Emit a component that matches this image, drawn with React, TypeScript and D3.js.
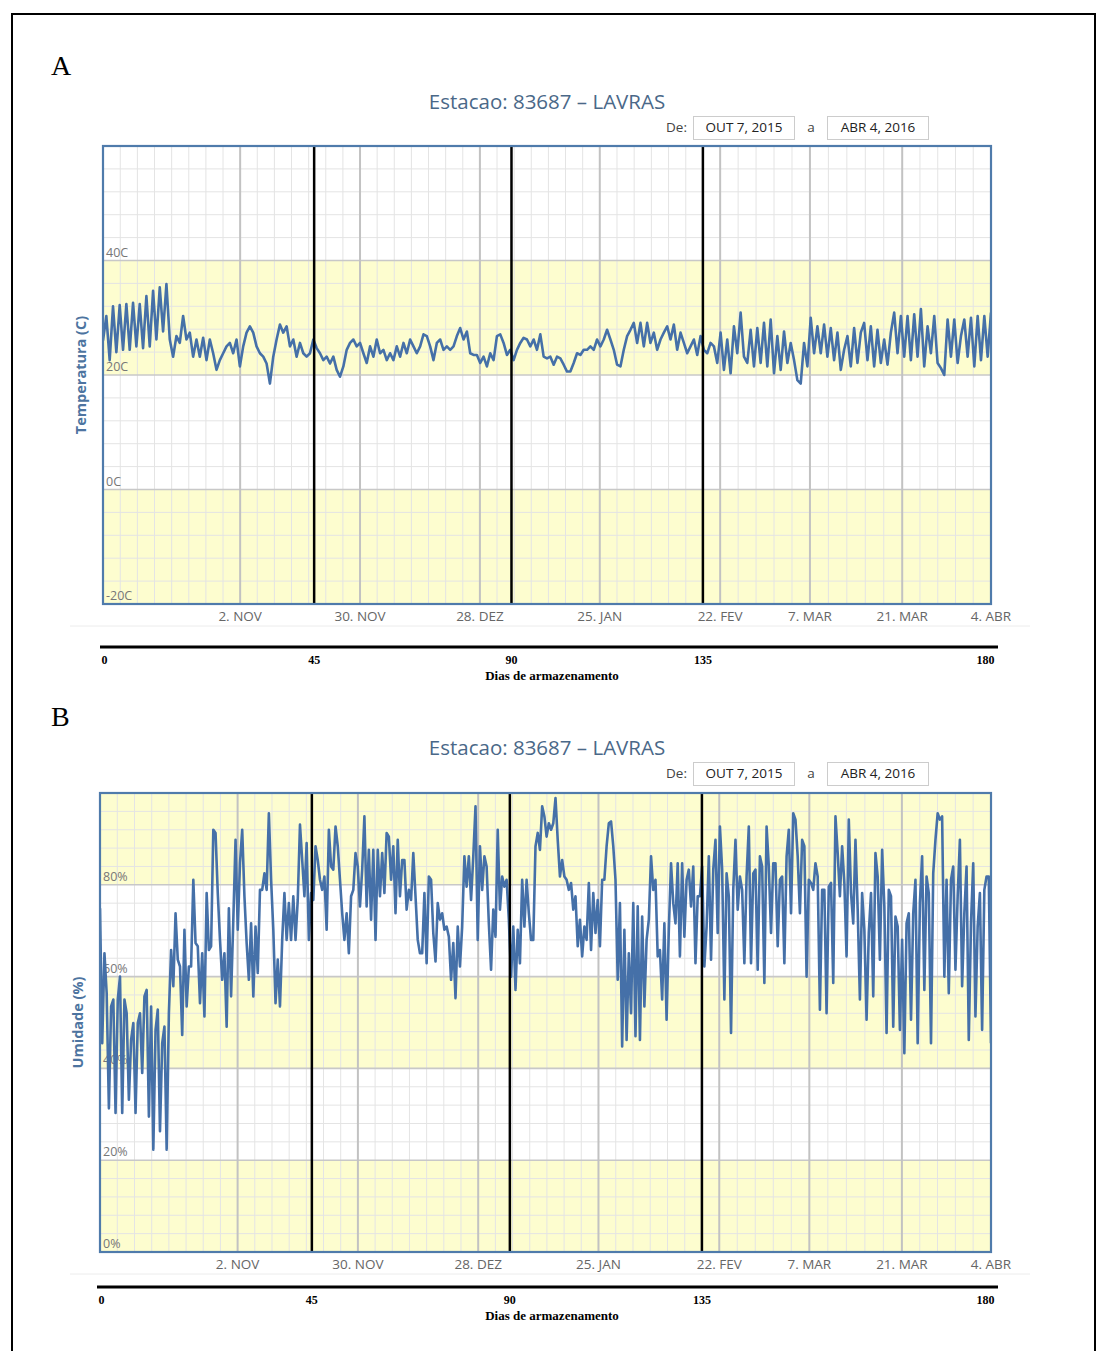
import React from 'react';
import * as d3 from 'd3';

// ---------- data ----------
const tempValues: number[] = [
  26, 30.3, 22.6, 32, 24, 32.2, 24.4, 32.4, 24.4, 32.6, 25, 32.4, 24.7, 33.8, 25, 34.7, 26.2, 35.3, 27.6, 35.9,
  26.2, 23.2, 26.8, 25.6, 30.3, 26.2, 27.4, 23.2, 26.2, 23.2,
  26.5, 22.6, 26.2, 23.8, 20.9, 22.6, 23.8, 25, 25.6, 23.8,
  26.2, 21.5, 25, 27.4, 28.5, 27.4, 25, 23.8, 23.2, 22,
  18.5, 23.2, 26.2, 28.8, 27.4, 28.5, 25, 26.2, 23.2, 25.6,
  23.8, 23.2, 23.8, 26.2, 24.7, 23.8, 22.6, 23.2, 22, 23.2,
  20.9, 19.7, 21.5, 24.4, 25.6, 26.2, 25, 25.6,
  23.8, 22.1, 25, 23.2, 26.2, 23.8, 24.4, 22.6, 23.8, 22.6,
  25, 23.2, 25.6, 23.8, 26.2, 25, 23.8, 25, 27.1, 26.8,
  25, 22.6, 25.6, 26.2, 24.4, 25, 24.4, 25, 26.8, 28.2,
  26.2, 27.6, 23.8, 23.5, 23.5, 22.1, 23.2, 21.5, 23.8, 22.6,
  26.8, 27.1, 25.6, 23.5, 24.4, 22.6, 24.4, 25.6, 26.5, 26.2,
  25, 26.2, 24.4, 27.1, 23.2, 22.9, 23.2, 21.8, 23.2, 22.9,
  21.8, 20.6, 20.6, 22.1, 23.8, 23.5, 24.4, 24.4, 25, 24.4,
  26.2, 25, 26.2, 27.9, 26.2, 24.4, 21.8, 21.5, 24.4, 26.8,
  27.9, 29.1, 25.6, 29.1, 25, 29.1, 25.6, 27.4, 24.4, 26.2,
  27.4, 28.5, 26.2, 28.8, 24.4, 27.4, 25.6, 23.8, 25, 26.2,
  23.5, 26.8, 24.4,
  23.8, 25.6, 25, 22.1, 27.4, 20.9, 26.2, 20.3, 28.5, 23.8,
  30.9, 23.2, 22.1, 27.9, 21.5, 28.2, 22.1, 29.1, 21.5, 29.7,
  20.3, 26.8, 20.9, 27.6, 22.1, 25.6, 22.6, 19.1, 18.5, 25.6,
  21.5, 30, 23.8, 28.5, 23.8, 28.8, 23.2, 28.2, 22.6, 27.4,
  20.9, 24.4, 26.8, 21.5, 28.2, 22.1, 27.4, 29.1, 22.6, 28.5,
  21.5, 27.9, 22.1, 26.2, 21.8, 27.4, 30.9, 23.8, 30.3, 23.2,
  30.3, 22.6, 30.6, 23.2, 31.5, 21.5, 28.5, 23.8, 30.3, 22.1,
  21.2, 20, 29.7, 23.2, 29.7, 22.1, 26.8, 29.7, 23.2, 30,
  21.5, 30.3, 22.6, 30.3, 23.2, 30.9,
];

const humidityValues: number[] = [
  74.9, 45.5, 65.1, 56.4, 31.3, 53.5, 55, 30.3, 55, 60,
  30.3, 55, 52, 33.2, 46.2, 49.9, 30.3, 49.9, 52, 39,
  55.7, 57.1, 29.5, 53.5, 22.3, 48.4, 52.8, 26.3, 45.5, 49.1,
  22.3, 52, 65.8, 57.9, 73.8, 63.7, 62.2, 47.3, 70.2, 53.5,
  62.2, 62.2, 81.1, 67.3, 66.6, 54.2, 65.1, 51.3, 78.2, 65.8,
  66.6, 92, 91.3, 78.2, 68, 59.3, 65.1, 49.1, 74.9, 55.7,
  72.4, 89.8, 70.2, 84.7, 92, 77.5, 67.3, 59.3, 71.6, 55.7,
  70.9, 60.8, 78.9, 78.9, 82.5, 78.9, 95.6, 81.1, 70.2, 54.2,
  63.7, 53.5, 68, 78.2, 68, 76, 68, 77.5, 68, 76.7,
  93.1, 85.4, 77.5, 89.1, 68, 78.2, 76.7, 88.4, 85.4, 81.1,
  78.9, 81.8, 70.2, 92, 84, 83.3, 92.7, 88.4, 81.1, 73.8,
  68, 73.8, 65.1, 77.5, 78.9, 86.9, 84, 75.3, 83.3, 94.9,
  75.3, 87.6, 72.4, 87.6, 68, 87.6, 77.5, 86.9, 78.2, 91.3,
  90.5, 81.1, 88.4, 73.8, 89.8, 77.5, 85.4, 85.4, 74.6, 78.9,
  76.7, 86.9, 77.5, 68, 65.1, 65.1, 78.2, 62.9, 81.8, 81.1,
  69.5, 63.3, 76, 72.4, 73.8, 70.2, 70.9, 68.7, 59.3, 67.3,
  55.3, 70.9, 62.2, 70.9, 86.2, 79.6, 86.2, 76.7, 86.2, 97.1,
  68, 88.4, 78.9, 86.2, 84, 71.6, 61.5, 74.6, 68.7, 92,
  74.6, 81.8, 79.6, 81.1, 72.4, 60, 70.9, 57.1, 70.2, 62.9,
  81.1, 70.9, 81.1, 73.8, 68, 68, 88.4, 91.3, 87.6, 97.1,
  94.9, 90.5, 93.4, 92, 93.4, 98.9, 89.8, 81.8, 85.4, 81.8,
  81.1, 78.9, 80.4, 74.6, 77.5, 66.6, 72.4, 64.4, 70.9, 68,
  80.4, 65.8, 78.2, 69.5, 76.7, 66.6, 81.1, 81.1, 88.4, 93.4,
  93.8, 88.4, 81.1, 59.3, 76, 44.8, 70.2, 46.2, 65.1, 52,
  76, 47, 75.3, 46.2, 73.1, 53.5, 68, 72.4, 86.2, 78.9,
  81.1, 64.4, 65.8, 55, 71.6, 50.6, 70.2, 84.7, 76, 71.6,
  84.7, 64.4, 84.7, 68.7, 81.1, 83.3, 75.3, 84, 62.9, 77.5,
  77.5, 84, 62.2, 70.9, 86.2, 63.7, 83.3, 89.8, 69.5, 92.7,
  83.3, 55, 82.5, 77.5, 47.7, 78.9, 89.8, 74.6, 81.8, 78.9,
  62.9, 81.8, 92.7, 62.9, 82.5, 83.3, 61.5, 86.2, 84, 58.6,
  92.7, 84, 69.5, 84.7, 84.7, 66.6, 81.1, 81.8, 62.9, 86.2,
  92, 73.8, 95.6, 94.2, 86.2, 73.8, 89.8, 88.4, 60, 81.1,
  80.4, 78.9, 84.7, 81.8, 52.8, 78.9, 78.9, 52, 79.6, 80.4,
  58.6, 94.9, 86.9, 77.5, 88.4, 80.4, 64.4, 94.2, 78.2, 71.6,
  89.8, 74.6, 55, 78.2, 70.2, 50.6, 69.5, 78.2, 55.7, 86.9,
  81.8, 63.7, 87.6, 75.3, 47.7, 78.9, 77.5, 49.1, 73.1, 70.9,
  48.4, 68, 43.3, 71.6, 73.8, 50.6, 73.8, 81.1, 45.5, 76,
  86.2, 57.1, 81.8, 78.2, 45.5, 82.5, 89.8, 95.6, 94.2, 94.9,
  60, 81.1, 56.4, 81.1, 84, 61.5, 77.5, 89.8, 57.9, 73.8,
  84, 46.2, 71.6, 84.7, 51.3, 70.9, 78.2, 48.4, 78.9, 81.8,
  81.8, 45.5,
];

// date axis (ordinal-style positions in the 0..180 axis span)
const dateTickLabels = ['2. NOV', '30. NOV', '28. DEZ', '25. JAN', '22. FEV', '7. MAR', '21. MAR', '4. ABR'];
const dateTickPos = [27.8, 52.1, 76.4, 100.7, 125.1, 143.3, 162.0, 180];
const minorDivisions = [7, 7, 7, 7, 5, 5, 5];

// storage-days overlay axis
const storageTicks = [0, 45, 90, 135, 180];
const storageTickPos = [0.3, 42.8, 82.8, 121.6, 178.9];
const markerDays = [45, 90, 135];

const tempTicks = [-20, 0, 20, 40];
const humTicks = [0, 20, 40, 60, 80];

const dateFrom = 'OUT 7, 2015';
const dateTo = 'ABR 4, 2016';
const stationTitle = 'Estacao: 83687 – LAVRAS';

// ---------- layout ----------
type PanelCfg = {
  id: string;
  letter: string;
  letterY: number;
  titleY: number;
  boxTop: number;
  plot: { left: number; top: number; width: number; height: number };
  yDomain: [number, number];
  yTicks: number[];
  bands: [number, number][];
  fmt: (v: number) => string;
  yTitle: string;
  values: number[];
  dateRowY: number;
  storageY: number;
};

const panels: PanelCfg[] = [
  {
    id: 'A', letter: 'A', letterY: 75, titleY: 109, boxTop: 116,
    plot: { left: 103, top: 146, width: 888, height: 458 },
    yDomain: [-20, 60], yTicks: tempTicks, bands: [[20, 40], [-20, 0]],
    fmt: (v) => `${v}C`, yTitle: 'Temperatura (C)', values: tempValues,
    dateRowY: 621, storageY: 647,
  },
  {
    id: 'B', letter: 'B', letterY: 726, titleY: 755, boxTop: 762,
    plot: { left: 100, top: 793, width: 891, height: 459 },
    yDomain: [0, 100], yTicks: humTicks, bands: [[80, 100], [40, 60], [0, 20]],
    fmt: (v) => `${v}%`, yTitle: 'Umidade (%)', values: humidityValues,
    dateRowY: 1269, storageY: 1287,
  },
];

const SANS = "'Open Sans', 'DejaVu Sans', sans-serif";
const SERIF = "'Liberation Serif', 'DejaVu Serif', serif";

function Panel({ cfg }: { cfg: PanelCfg }) {
  const { plot } = cfg;
  const right = plot.left + plot.width;
  const bottom = plot.top + plot.height;
  const x = d3.scaleLinear().domain([0, 180]).range([plot.left, right]);
  const y = d3.scaleLinear().domain(cfg.yDomain).range([bottom, plot.top]);
  const storage = d3.scaleLinear().domain(storageTicks).range(storageTickPos);
  const n = cfg.values.length;
  const line = d3
    .line<number>()
    .x((_, i) => x((i * 180) / (n - 1)))
    .y((v) => y(v));

  const minorX: number[] = [];
  const firstStep = (dateTickPos[1] - dateTickPos[0]) / minorDivisions[0];
  for (let v = dateTickPos[0] - firstStep; v > 1; v -= firstStep) minorX.push(v);
  dateTickPos.slice(0, -1).forEach((p, k) => {
    const step = (dateTickPos[k + 1] - p) / minorDivisions[k];
    for (let j = 1; j < minorDivisions[k]; j++) minorX.push(p + j * step);
  });
  const minorY = d3.range(cfg.yDomain[0] + 4, cfg.yDomain[1], 4).filter((v) => (v - cfg.yDomain[0]) % 20 !== 0);

  const clipId = `clip-${cfg.id}`;
  const midX = 547;
  const midY = (plot.top + bottom) / 2;

  return (
    <g>
      <defs>
        <clipPath id={clipId}>
          <rect x={plot.left} y={plot.top} width={plot.width} height={plot.height} />
        </clipPath>
      </defs>
      <text x={51} y={cfg.letterY} fontFamily={SERIF} fontSize={28} fill="#000">{cfg.letter}</text>
      <text x={midX} y={cfg.titleY} textAnchor="middle" fontFamily={SANS} fontSize={20.5} fill="#4a6888">{stationTitle}</text>
      <text x={687} y={cfg.boxTop + 16} textAnchor="end" fontFamily={SANS} fontSize={13.5} fill="#444">De:</text>
      <rect x={693.5} y={cfg.boxTop + 0.5} width={101} height={23} fill="#fff" stroke="#ccc" />
      <text x={744} y={cfg.boxTop + 16} textAnchor="middle" fontFamily={SANS} fontSize={13.5} fill="#222">{dateFrom}</text>
      <text x={811} y={cfg.boxTop + 16} textAnchor="middle" fontFamily={SANS} fontSize={13.5} fill="#444">a</text>
      <rect x={827.5} y={cfg.boxTop + 0.5} width={101} height={23} fill="#fff" stroke="#ccc" />
      <text x={878} y={cfg.boxTop + 16} textAnchor="middle" fontFamily={SANS} fontSize={13.5} fill="#222">{dateTo}</text>

      {/* plot background & bands */}
      <rect x={plot.left} y={plot.top} width={plot.width} height={plot.height} fill="#fff" />
      {cfg.bands.map(([a, b], i) => (
        <rect key={i} x={plot.left} y={y(b)} width={plot.width} height={y(a) - y(b)} fill="#fdfdcf" />
      ))}

      {/* minor grid */}
      {minorY.map((v) => (
        <line key={`my${v}`} x1={plot.left} x2={right} y1={y(v)} y2={y(v)} stroke="#e4e4e4" strokeWidth={1} />
      ))}
      {minorX.map((v, i) => (
        <line key={`mx${i}`} x1={x(v)} x2={x(v)} y1={plot.top} y2={bottom} stroke="#e4e4e4" strokeWidth={1} />
      ))}
      {/* major grid */}
      {cfg.yTicks.map((v) => (
        <line key={`gy${v}`} x1={plot.left} x2={right} y1={y(v)} y2={y(v)} stroke="#c8c8c8" strokeWidth={1.6} />
      ))}
      {dateTickPos.map((v, i) => (
        <line key={`gx${i}`} x1={x(v)} x2={x(v)} y1={plot.top} y2={bottom} stroke="#c2c2c2" strokeWidth={2} />
      ))}

      {/* y labels */}
      {cfg.yTicks.map((v) => (
        <text key={`yl${v}`} x={plot.left + 3} y={y(v) - 4} fontFamily={SANS} fontSize={12.5} fill="#777">{cfg.fmt(v)}</text>
      ))}
      <text
        transform={`translate(${plot.left - 17},${midY}) rotate(-90)`}
        textAnchor="middle"
        fontFamily={SANS}
        fontSize={14.5}
        fontWeight="bold"
        fill="#4d74a0"
      >
        {cfg.yTitle}
      </text>

      {/* data */}
      <path d={line(cfg.values) ?? ''} fill="none" stroke="#4570a8" strokeWidth={2.6} strokeLinejoin="round" clipPath={`url(#${clipId})`} />

      {/* storage markers */}
      {markerDays.map((d) => (
        <line key={`mk${d}`} x1={x(storage(d))} x2={x(storage(d))} y1={plot.top} y2={bottom} stroke="#000" strokeWidth={2.5} />
      ))}

      {/* frame */}
      <rect x={plot.left} y={plot.top} width={plot.width} height={plot.height} fill="none" stroke="#4f7bab" strokeWidth={2.2} />

      {/* date labels */}
      {dateTickPos.map((v, i) => (
        <text key={`dl${i}`} x={x(v)} y={cfg.dateRowY} textAnchor="middle" fontFamily={SANS} fontSize={13.5} fill="#666">
          {dateTickLabels[i]}
        </text>
      ))}
      <line x1={70} x2={1030} y1={cfg.dateRowY + 5} y2={cfg.dateRowY + 5} stroke="#ececec" strokeWidth={1} />

      {/* storage axis */}
      <line x1={plot.left - 3} x2={998} y1={cfg.storageY} y2={cfg.storageY} stroke="#000" strokeWidth={3} />
      {storageTicks.map((d) => (
        <text key={`st${d}`} x={x(storage(d))} y={cfg.storageY + 17} textAnchor="middle" fontFamily={SERIF} fontWeight="bold" fontSize={12} fill="#000">
          {d}
        </text>
      ))}
      <text x={552} y={cfg.storageY + 33} textAnchor="middle" fontFamily={SERIF} fontWeight="bold" fontSize={13} fill="#000">
        Dias de armazenamento
      </text>
    </g>
  );
}

export default function App() {
  return (
    <svg
      width={1096}
      height={1351}
      style={{ position: 'absolute', left: 0, top: 0, background: '#fff' }}
    >
      <rect x={0} y={0} width={1096} height={1351} fill="#fff" />
      <rect x={12} y={14} width={1083} height={1350} fill="none" stroke="#000" strokeWidth={2} />
      {panels.map((p) => (
        <Panel key={p.id} cfg={p} />
      ))}
    </svg>
  );
}
